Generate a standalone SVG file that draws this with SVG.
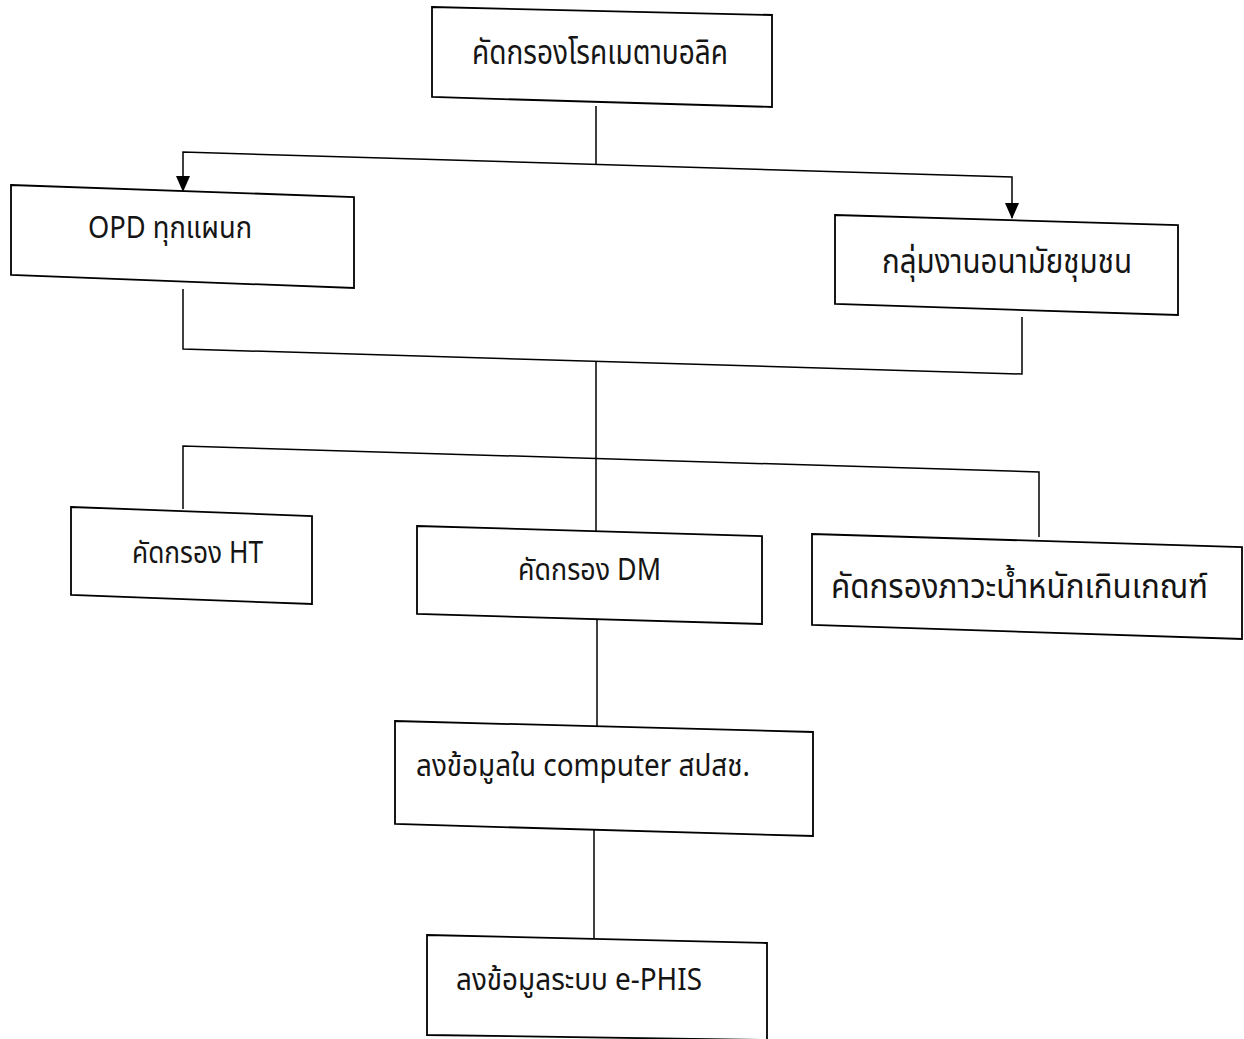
<svg xmlns="http://www.w3.org/2000/svg" width="1244" height="1039" viewBox="0 0 1244 1039">
<defs>
<style>
.box{fill:#fff;stroke:#000;stroke-width:1.8;stroke-linejoin:miter}
.ln{fill:none;stroke:#000;stroke-width:1.5}
.t{font-family:"Noto Sans Thai","Noto Sans","DejaVu Sans",sans-serif;font-size:33px;fill:#151515}
.s{font-size:30px}
</style>
</defs>
<rect width="1244" height="1039" fill="#fff"/>
<g id="connectors">
<polyline class="ln" points="596,106 596,164.5"/>
<polyline class="ln" points="183,190 183,152 1012,177 1012,218"/>
<polyline class="ln" points="183,289 183,349 1022,374 1022,317"/>
<polyline class="ln" points="596,361 596,531"/>
<polyline class="ln" points="183,509 183,446 1039,472 1039,537"/>
<polyline class="ln" points="597,620 597,727"/>
<polyline class="ln" points="594,830 594,938"/>
<path d="M176,176 L190,176 L183,192 Z" fill="#000"/>
<path d="M1005,203 L1019,203 L1012,219 Z" fill="#000"/>
</g>
<g id="n1">
<polygon class="box" points="432,7 772,15 772,107 432,97"/>
<text class="t" x="472" y="64" textLength="256" lengthAdjust="spacingAndGlyphs">คัดกรองโรคเมตาบอลิค</text>
</g>
<g id="n2">
<polygon class="box" points="11,185 354,197 354,288 11,275"/>
<text class="t s" x="88" y="238" textLength="164" lengthAdjust="spacingAndGlyphs">OPD ทุกแผนก</text>
</g>
<g id="n3">
<polygon class="box" points="835,215 1178,225 1178,315 835,304"/>
<text class="t" x="882" y="273" textLength="250" lengthAdjust="spacingAndGlyphs">กลุ่มงานอนามัยชุมชน</text>
</g>
<g id="n4">
<polygon class="box" points="71,507 312,516 312,604 71,595"/>
<text class="t s" x="132" y="563" textLength="131" lengthAdjust="spacingAndGlyphs">คัดกรอง HT</text>
</g>
<g id="n5">
<polygon class="box" points="417,526 762,536 762,624 417,614"/>
<text class="t s" x="518" y="580" textLength="143" lengthAdjust="spacingAndGlyphs">คัดกรอง DM</text>
</g>
<g id="n6">
<polygon class="box" points="812,534 1242,547 1242,639 812,625"/>
<text class="t" x="831" y="598" textLength="377" lengthAdjust="spacingAndGlyphs">คัดกรองภาวะน้ำหนักเกินเกณฑ์</text>
</g>
<g id="n7">
<polygon class="box" points="395,721 813,732 813,836 395,824"/>
<text class="t s" x="416" y="776" textLength="334" lengthAdjust="spacingAndGlyphs">ลงข้อมูลใน computer สปสช.</text>
</g>
<g id="n8">
<polygon class="box" points="427,935 767,943 767,1040 427,1035"/>
<text class="t s" x="456" y="990" textLength="246" lengthAdjust="spacingAndGlyphs">ลงข้อมูลระบบ e-PHIS</text>
</g>
</svg>
